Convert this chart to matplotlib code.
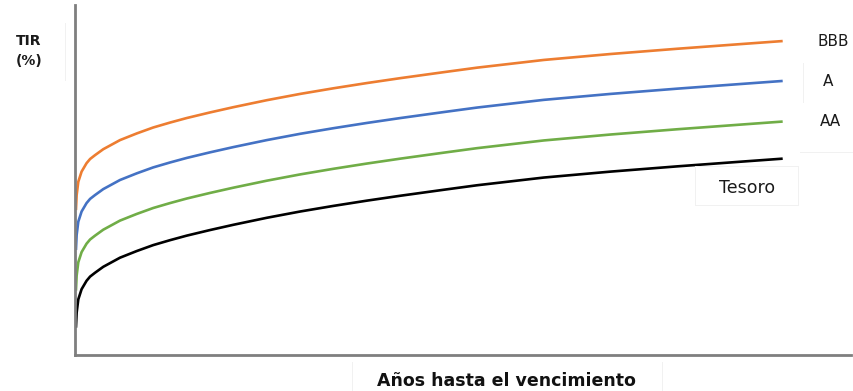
import matplotlib
matplotlib.use("Agg")
import matplotlib.pyplot as plt
from matplotlib.lines import Line2D

# Years to maturity sampled along each curve
years = [0, 0.03, 0.10, 0.24, 0.45, 0.60, 0.81, 1.16, 1.87, 2.58, 3.28, 3.99, 4.70,
         5.69, 6.68, 8.10, 9.52, 10.93, 12.35, 13.77, 15.60, 17.03, 19.86, 22.70,
         25.53, 28.36, 30.00]

# Yield (%) by rating
tir_bbb = [4.14, 4.57, 4.95, 5.24, 5.48, 5.60, 5.71, 5.88, 6.14, 6.33, 6.50, 6.64, 6.77,
           6.93, 7.08, 7.28, 7.46, 7.62, 7.77, 7.91, 8.08, 8.21, 8.43, 8.60,
           8.75, 8.89, 8.97]
tir_a = [3.00, 3.43, 3.81, 4.10, 4.34, 4.46, 4.57, 4.74, 5.00, 5.19, 5.36, 5.50, 5.63,
         5.79, 5.94, 6.14, 6.32, 6.48, 6.63, 6.77, 6.94, 7.07, 7.29, 7.46,
         7.61, 7.75, 7.83]
tir_aa = [1.84, 2.27, 2.65, 2.94, 3.18, 3.30, 3.41, 3.58, 3.84, 4.03, 4.20, 4.34, 4.47,
          4.63, 4.78, 4.98, 5.16, 5.32, 5.47, 5.61, 5.78, 5.91, 6.13, 6.30,
          6.45, 6.59, 6.67]
tir_tesoro = [0.78, 1.21, 1.59, 1.88, 2.12, 2.24, 2.35, 2.52, 2.78, 2.97, 3.14, 3.28, 3.41,
              3.57, 3.72, 3.92, 4.10, 4.26, 4.41, 4.55, 4.72, 4.85, 5.07, 5.24,
              5.39, 5.53, 5.61]

series = [
    ("BBB", tir_bbb, "#ED7D31"),
    ("A", tir_a, "#4472C4"),
    ("AA", tir_aa, "#70AD47"),
    ("Tesoro", tir_tesoro, "#000000"),
]

W, H = 854, 391
fig = plt.figure(figsize=(W / 100, H / 100), dpi=100)
ax = fig.add_axes([75 / W, 1 - 355 / H, (851 - 75) / W, (355 - 5) / H])

for name, vals, color in series:
    ax.plot(years, vals, color=color, lw=1.9, solid_capstyle="butt",
            solid_joinstyle="round")

ax.set_xlim(-0.04, 32.9)
ax.set_ylim(0, 10)
ax.set_xticks([])
ax.set_yticks([])
for side in ("top", "right"):
    ax.spines[side].set_visible(False)
for side in ("left", "bottom"):
    ax.spines[side].set_color("#7f7f7f")
    ax.spines[side].set_linewidth(2.0)


def faint_edge(x0, y0, x1, y1):
    """Thin, very light frame edge given in pixel coordinates."""
    fig.add_artist(Line2D([x0 / W, x1 / W], [1 - y0 / H, 1 - y1 / H],
                          transform=fig.transFigure, color="#f1f1f1", lw=0.7))


# Light text-box outlines around the annotations
faint_edge(65, 23, 65, 80)
faint_edge(803, 63, 803, 102)
faint_edge(800, 152, 854, 152)
faint_edge(695, 166, 695, 205)
faint_edge(695, 166, 798, 166)
faint_edge(695, 205, 798, 205)
faint_edge(798, 166, 798, 205)
faint_edge(352, 362, 352, 391)
faint_edge(662, 362, 662, 391)

font = "DejaVu Sans"
# Curve labels on the right
labels = [("BBB", 833, 42, 11), ("A", 828, 82, 11), ("AA", 830, 122, 11),
          ("Tesoro", 747, 188, 12.5)]
for txt, px, py, fs in labels:
    fig.text(px / W, 1 - py / H, txt, ha="center", va="center",
             fontsize=fs, family=font, color="#1a1a1a")

fig.text(29 / W, 1 - 51 / H, "TIR\n(%)", ha="center", va="center",
         fontsize=10, fontweight="bold", family=font, color="#1a1a1a",
         linespacing=1.6)
fig.text(506 / W, 1 - 381 / H, "Años hasta el vencimiento", ha="center",
         va="center", fontsize=12.5, fontweight="bold", family=font,
         color="#111111")

fig.savefig("out.png", dpi=100)
